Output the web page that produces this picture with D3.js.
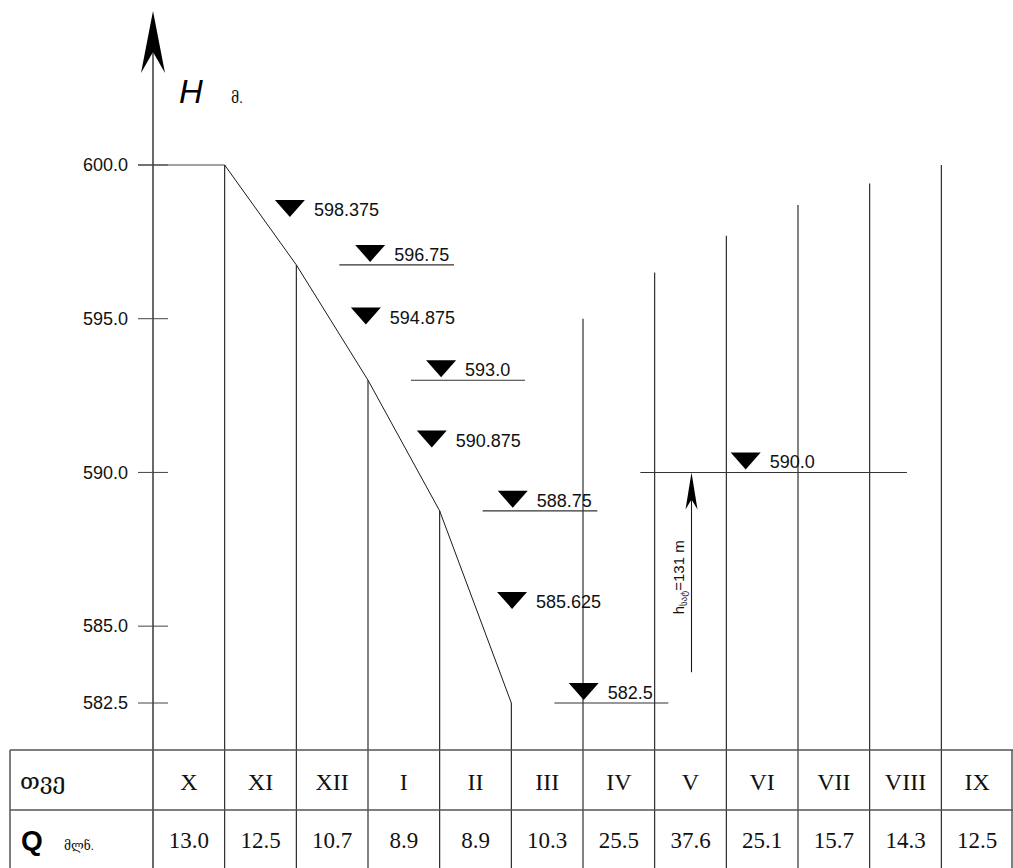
<!DOCTYPE html>
<html>
<head>
<meta charset="utf-8">
<script src="https://cdn.jsdelivr.net/npm/d3@7"></script>
<style>
  html, body { margin: 0; padding: 0; background: #fff; }
  svg { display: block; }
</style>
</head>
<body>
<svg id="chart" width="1013" height="868"></svg>
<script>
// ---- data ----
const months = ["X", "XI", "XII", "I", "II", "III", "IV", "V", "VI", "VII", "VIII", "IX"];
const flows = [13.0, 12.5, 10.7, 8.9, 8.9, 10.3, 25.5, 37.6, 25.1, 15.7, 14.3, 12.5];
const yTicks = [600.0, 595.0, 590.0, 585.0, 582.5];

// drawdown curve (month boundary index -> level)
const curvePos = [1, 2, 3, 4, 5];
const curveLevels = [600.0, 596.75, 593.0, 588.75, 582.5];

// month-boundary verticals (boundary index -> top level)
const boundaryPos = [1, 2, 3, 4, 5, 6, 7, 8, 9, 10, 11];
const boundaryTop = [600.0, 596.75, 593.0, 588.75, 582.5, 595.0, 596.5, 597.7, 598.7, 599.4, 600.0];

// level markers
const markerLevels = [598.375, 596.75, 594.875, 593.0, 590.875, 588.75, 585.625, 582.5, 590.0];
const markerLabels = ["598.375", "596.75", "594.875", "593.0", "590.875", "588.75", "585.625", "582.5", "590.0"];
const markerPos = [1.91, 3.03, 2.97, 4.02, 3.89, 5.02, 5.01, 6.01, 8.27];
const markerLineFrom = [null, 2.6, null, 3.6, null, 4.6, null, 5.6, 6.8];
const markerLineTo = [null, 4.2, null, 5.19, null, 6.2, null, 7.19, 10.52];

// head arrow
const headLevelTop = 590.0;
const headLevelBottom = 583.5;
const headPos = 7.5;

// ---- layout ----
const svg = d3.select("#chart");
const x = d3.scaleLinear().domain([0, 12]).range([153, 1013]);
const y = d3.scaleLinear().domain([582.5, 600]).range([703, 165]);
const tableTop = 750, tableMid = 810, tableBottom = 868, tableLeft = 10;
const ink = "#1a1a1a";
const sans = "'Liberation Sans', Arial, 'DejaVu Sans', sans-serif";
const serif = "'Liberation Serif', 'Times New Roman', 'DejaVu Serif', serif";

// y axis
svg.append("line").attr("x1", x(0)).attr("x2", x(0)).attr("y1", 40).attr("y2", tableBottom)
  .attr("stroke", ink).attr("stroke-width", 1.3);
svg.append("path")
  .attr("d", `M${x(0)},11 L${x(0) + 12},73 L${x(0)},52 L${x(0) - 12},73 Z`)
  .attr("fill", "#000");

// ticks and labels
yTicks.forEach(v => {
  svg.append("line").attr("x1", x(0) - 15).attr("x2", x(0) + 15)
    .attr("y1", y(v)).attr("y2", y(v)).attr("stroke", "#444").attr("stroke-width", 1);
  svg.append("text").attr("x", 128).attr("y", y(v)).attr("dy", "0.35em")
    .attr("text-anchor", "end").attr("font-family", sans).attr("font-size", 18)
    .attr("fill", "#111").text(d3.format(".1f")(v));
});

// H label
svg.append("text").attr("x", 179).attr("y", 103).attr("font-family", sans)
  .attr("font-style", "italic").attr("font-size", 33).attr("fill", "#000").text("H");
svg.append("text").attr("x", 231).attr("y", 103).attr("font-family", serif)
  .attr("font-size", 14).attr("fill", "#111").text("მ.");

// initial level line 600 from tick to curve start
svg.append("line").attr("x1", x(0) - 15).attr("x2", x(curvePos[0]))
  .attr("y1", y(curveLevels[0])).attr("y2", y(curveLevels[0]))
  .attr("stroke", "#444").attr("stroke-width", 1);

// drawdown curve
const line = d3.line().x((d, i) => x(curvePos[i])).y(d => y(d));
svg.append("path").datum(curveLevels).attr("d", line)
  .attr("fill", "none").attr("stroke", ink).attr("stroke-width", 1);

// boundary verticals
boundaryPos.forEach((p, i) => {
  svg.append("line").attr("x1", x(p)).attr("x2", x(p))
    .attr("y1", y(boundaryTop[i])).attr("y2", tableBottom)
    .attr("stroke", ink).attr("stroke-width", 1.1);
});

// markers
markerLevels.forEach((v, i) => {
  const cx = x(markerPos[i]);
  const hasLine = markerLineFrom[i] !== null;
  const tip = hasLine ? y(v) - 3 : y(v) + 2;
  if (hasLine) {
    svg.append("line").attr("x1", x(markerLineFrom[i])).attr("x2", x(markerLineTo[i]))
      .attr("y1", y(v)).attr("y2", y(v)).attr("stroke", "#333").attr("stroke-width", 1.1);
  }
  svg.append("path")
    .attr("d", `M${cx - 15},${tip - 17} L${cx + 15},${tip - 17} L${cx},${tip} Z`)
    .attr("fill", "#000");
  svg.append("text").attr("x", cx + 24).attr("y", tip - 1)
    .attr("font-family", sans).attr("font-size", 18).attr("fill", "#111")
    .text(markerLabels[i]);
});

// head arrow
const hx = x(headPos) + 1;
svg.append("line").attr("x1", hx).attr("x2", hx)
  .attr("y1", y(headLevelBottom)).attr("y2", y(headLevelTop) + 20)
  .attr("stroke", ink).attr("stroke-width", 1.1);
svg.append("path")
  .attr("d", `M${hx},${y(headLevelTop)} L${hx + 6},${y(headLevelTop) + 37} L${hx},${y(headLevelTop) + 27} L${hx - 6},${y(headLevelTop) + 37} Z`)
  .attr("fill", "#000");
const hl = svg.append("text")
  .attr("transform", `translate(${hx - 8},${(y(headLevelTop) + y(headLevelBottom)) / 2 + 5}) rotate(-90)`)
  .attr("text-anchor", "middle").attr("font-family", sans).attr("font-size", 15).attr("fill", "#111");
hl.append("tspan").text("h");
hl.append("tspan").attr("font-size", 9).attr("dy", 3).text("სატ");
hl.append("tspan").attr("dy", -3).text("=131 m");

// table
const tstroke = "#555";
svg.append("line").attr("x1", tableLeft).attr("x2", 1013).attr("y1", tableTop).attr("y2", tableTop)
  .attr("stroke", tstroke).attr("stroke-width", 1.5);
svg.append("line").attr("x1", tableLeft).attr("x2", 1013).attr("y1", tableMid).attr("y2", tableMid)
  .attr("stroke", tstroke).attr("stroke-width", 1.5);
svg.append("line").attr("x1", tableLeft).attr("x2", tableLeft).attr("y1", tableTop).attr("y2", tableBottom)
  .attr("stroke", tstroke).attr("stroke-width", 1.5);
svg.append("line").attr("x1", 1012).attr("x2", 1012).attr("y1", tableTop).attr("y2", tableBottom)
  .attr("stroke", tstroke).attr("stroke-width", 1.5);

svg.append("text").attr("x", 20).attr("y", 789).attr("font-family", serif)
  .attr("font-size", 23).attr("fill", "#111").text("თვე");
svg.append("text").attr("x", 21).attr("y", 850).attr("font-family", sans)
  .attr("font-weight", "bold").attr("font-size", 28).attr("fill", "#000").text("Q");
svg.append("text").attr("x", 64).attr("y", 850).attr("font-family", serif)
  .attr("font-size", 12).attr("fill", "#111").text("მლნ.");

months.forEach((m, i) => {
  svg.append("text").attr("x", x(i + 0.5)).attr("y", 790).attr("text-anchor", "middle")
    .attr("font-family", serif).attr("font-size", 24).attr("fill", "#111").text(m);
});
flows.forEach((q, i) => {
  svg.append("text").attr("x", x(i + 0.5)).attr("y", 848).attr("text-anchor", "middle")
    .attr("font-family", serif).attr("font-size", 23).attr("fill", "#111").text(d3.format(".1f")(q));
});
</script>
</body>
</html>
